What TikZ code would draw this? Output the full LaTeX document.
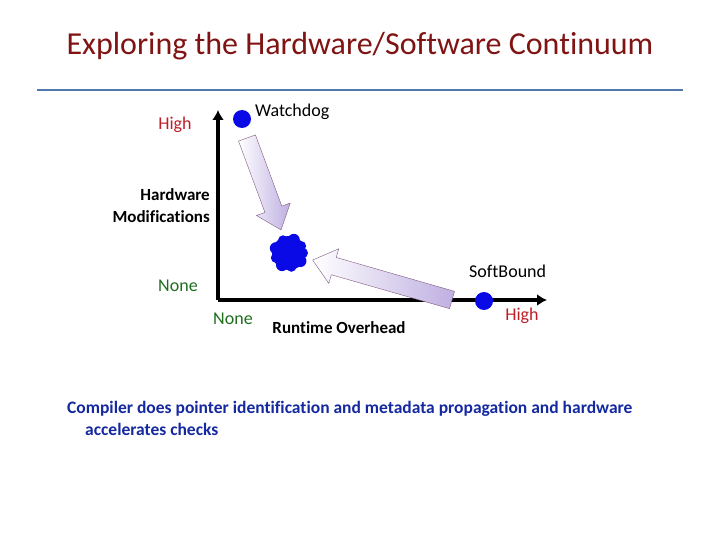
\documentclass[tikz,border=0pt]{standalone}
\usepackage{fontspec}
\setmainfont{Carlito}[Ligatures=NoCommon]
\usetikzlibrary{arrows.meta}
\definecolor{titlered}{RGB}{128,20,20}
\definecolor{rulblue}{RGB}{80,120,170}
\definecolor{lblred}{RGB}{190,30,40}
\definecolor{lblgreen}{RGB}{30,110,30}
\definecolor{txtblue}{RGB}{20,40,160}
\definecolor{dotblue}{RGB}{10,10,230}
\definecolor{lavender}{RGB}{190,175,225}
\newcommand{\blockarrow}[3]{%
  \begin{scope}[shift={#1}, rotate=#2]
    \draw[draw=gray!70!violet, left color=white, right color=lavender]
      (0,-9) -- ({#3-22},-9) -- ({#3-22},-18) -- (#3,0) -- ({#3-22},18)
      -- ({#3-22},9) -- (0,9) -- cycle;
  \end{scope}}
\begin{document}
\begin{tikzpicture}
      [x=1pt, y=-1pt,
       lbl/.style={font=\fontsize{18}{22}\selectfont, inner sep=0pt},
       dot/.style={circle, fill=dotblue, minimum size=18pt, inner sep=0pt}]
      \useasboundingbox (0,0) rectangle (720,540);
      \node[font=\fontsize{32}{36}\selectfont, text=titlered] (title) at (360,46) {Exploring the Hardware/Software Continuum};
      \draw[rulblue, line width=1.2pt] (37,90) -- (683,90);

      % axes
      \coordinate (orig) at (218,300);
      \coordinate (ytop) at (218,110);
      \coordinate (xend) at (547,300);
      \draw[line width=3.5pt, -{Latex[length=10pt,width=12pt]}] (orig) -- (ytop);
      \draw[line width=3.5pt, -{Latex[length=10pt,width=12pt]}] (orig) -- (xend);

      % arrows
      \blockarrow{(247,138)}{-69.7}{98}
      \blockarrow{(452,300)}{164}{145}

      % points
      \node[dot] (wd) at (242,119) {};
      \node[dot] (sb) at (484,301) {};
      \fill[dotblue] (289,253) circle (17);
      \foreach \a/\r in {0/5,35/6,80/5,120/6,160/5,200/6,245/5,290/6,330/5} {
        \fill[dotblue] (289,253) ++(\a:14) circle (\r);
      }

      % labels
      \node[lbl, anchor=west] (wdl) at (255,112) {Watchdog};
      \node[lbl, anchor=west] (sbl) at (469,271) {SoftBound};
      \node[lbl, text=lblred] (yhi) at (175,125) {High};
      \node[lbl, align=right, anchor=east, font=\fontsize{17}{22}\bfseries] (ylab) at (210,206) {Hardware\\Modifications};
      \node[lbl, text=lblgreen] (ylo) at (178,286) {None};
      \node[lbl, text=lblgreen] (xlo) at (233,319) {None};
      \node[lbl, font=\fontsize{17}{20}\bfseries] (xlab) at (339,328) {Runtime Overhead};
      \node[lbl, text=lblred] (xhi) at (522,316) {High};

      \node[lbl, text=txtblue, anchor=north west, align=left, font=\fontsize{17.5}{22}\bfseries] (note) at (67,401)
        {Compiler does pointer identification and metadata propagation and hardware\\\hspace{18pt}accelerates checks};
\end{tikzpicture}
\end{document}
